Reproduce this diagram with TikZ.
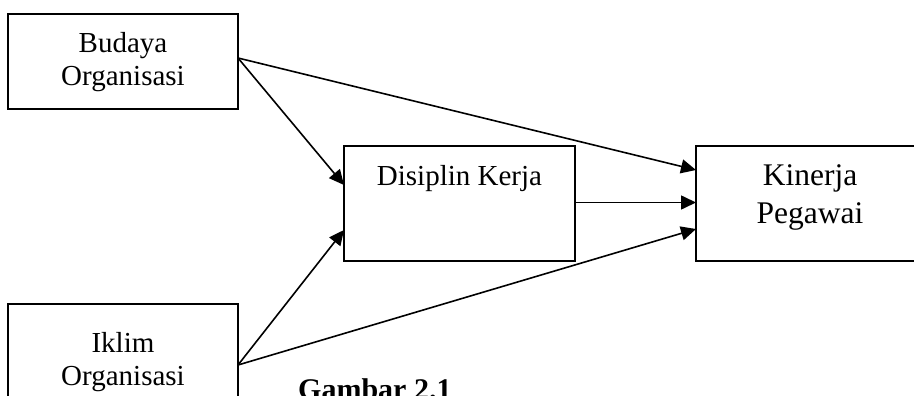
\documentclass[tikz,border=0pt]{standalone}
\usepackage{fontspec}
\setmainfont{Liberation Serif}
\usetikzlibrary{arrows.meta}
\begin{document}
\begin{tikzpicture}[x=1pt,y=-1pt,
  box/.style={draw,line width=1.7pt,inner sep=0pt,outer sep=0pt,rectangle},
  lbl/.style={inner sep=0pt,anchor=base,align=center,font=\fontsize{29}{33}\selectfont},
  biglbl/.style={inner sep=0pt,anchor=base,align=center,font=\fontsize{31.5}{38}\selectfont},
  conn/.style={line width=1.6pt,-{Triangle[length=15pt,width=14pt]}}]
\useasboundingbox (0,0) rectangle (914,396);
\clip (0,0) rectangle (914,396);
\node[box,minimum width=230pt,minimum height=95pt] (budaya) at (123,61.5) {};
\node[box,minimum width=230pt,minimum height=95pt] (iklim) at (123,351.5) {};
\node[box,minimum width=231pt,minimum height=115pt] (disiplin) at (459.5,203.5) {};
\node[box,minimum width=228pt,minimum height=115pt] (kinerja) at (810,203.5) {};
\node[lbl] (tb1) at (123,53) {Budaya};
\node[lbl] (tb2) at (123,86) {Organisasi};
\node[lbl] (ti1) at (123,352) {Iklim};
\node[lbl] (ti2) at (123,385) {Organisasi};
\node[lbl] (td) at (459.5,185) {Disiplin Kerja};
\node[biglbl] (tk1) at (810,185) {Kinerja};
\node[biglbl] (tk2) at (810,223) {Pegawai};
\node[inner sep=0pt,anchor=base west,font=\fontsize{30}{36}\selectfont\bfseries] (cap) at (298,399) {Gambar 2.1};
\draw[conn] ([yshift=3.5pt]budaya.east) -- ([yshift=18.5pt]disiplin.west);
\draw[conn] ([yshift=3.5pt]budaya.east) -- ([yshift=33.5pt]kinerja.west);
\draw[conn] ([yshift=-13.5pt]iklim.east) -- ([yshift=-26.5pt]disiplin.west);
\draw[conn] ([yshift=-13.5pt]iklim.east) -- ([yshift=-25.5pt]kinerja.west);
\draw[conn] ([yshift=1pt]disiplin.east) -- ([yshift=1pt]kinerja.west);
\end{tikzpicture}
\end{document}
